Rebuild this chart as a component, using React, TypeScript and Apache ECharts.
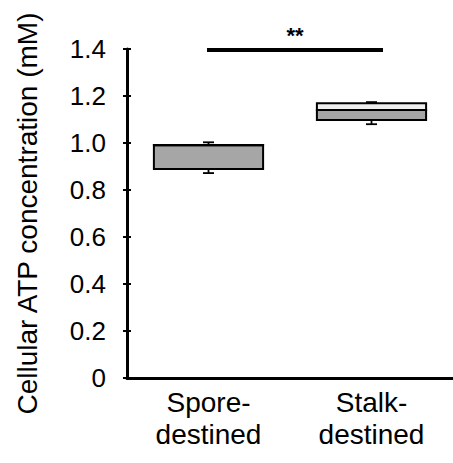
import React, { useEffect, useRef } from "react";
import * as echarts from "echarts";

const categories = ["Spore-\ndestined", "Stalk-\ndestined"];
// [min, Q1, median, Q3, max]
const boxStats = [
  [0.872, 0.889, 0.99, 0.991, 1.003],
  [1.08, 1.098, 1.14, 1.169, 1.174],
];
const yTicks = { min: 0, max: 1.4, interval: 0.2 };
const yAxisTitle = "Cellular ATP concentration (mM)";
const significance = "**";

const FONT = "'Liberation Sans', Arial, Helvetica, sans-serif";

export default function App() {
  const ref = useRef<HTMLDivElement>(null);
  useEffect(() => {
    if (!ref.current) return;
    const chart = echarts.init(ref.current, null, { renderer: "svg" });
    const data = boxStats.map((s, i) => [i, ...s]);
    const option: any = {
      animation: false,
      grid: { left: 127, right: -7, top: 49, bottom: 85 },
      xAxis: {
        type: "category",
        data: categories,
        boundaryGap: true,
        axisLine: { lineStyle: { color: "#000", width: 3 } },
        axisTick: { show: false },
        axisLabel: {
          color: "#000",
          fontSize: 28,
          fontFamily: FONT,
          lineHeight: 32,
          margin: 8,
          interval: 0,
        },
      },
      yAxis: [
        {
          type: "value",
          ...yTicks,
          name: yAxisTitle,
          nameLocation: "middle",
          nameRotate: 90,
          nameGap: 86,
          nameTextStyle: { color: "#000", fontSize: 28, fontFamily: FONT },
          splitLine: { show: false },
          axisLine: { show: true, lineStyle: { color: "#000", width: 3 } },
          axisTick: { show: true, length: 4, lineStyle: { color: "#000", width: 2 } },
          axisLabel: {
            color: "#000",
            fontSize: 26,
            fontFamily: FONT,
            margin: 21,
            formatter: (v: number) => (v === 0 ? "0" : v.toFixed(1)),
          },
        },
        {
          type: "value",
          ...yTicks,
          position: "left",
          splitLine: { show: false },
          axisLine: { show: false },
          axisTick: { show: true, inside: true, length: 4, lineStyle: { color: "#000", width: 2 } },
          axisLabel: { show: false },
        },
      ],
      series: [
        {
          type: "custom",
          data,
          encode: { x: 0, y: [1, 2, 3, 4, 5] },
          renderItem: (params: any, api: any) => {
            const idx = api.value(0);
            const mn = api.coord([idx, api.value(1)]);
            const q1 = api.coord([idx, api.value(2)]);
            const md = api.coord([idx, api.value(3)]);
            const q3 = api.coord([idx, api.value(4)]);
            const mx = api.coord([idx, api.value(5)]);
            const bw = api.size([1, 0])[0] * 0.67;
            const cx = mn[0];
            const left = cx - bw / 2;
            const cap = 5.5;
            const lineStyle = { stroke: "#000", lineWidth: 1.8 };
            return {
              type: "group",
              children: [
                { type: "line", shape: { x1: cx, y1: q3[1], x2: cx, y2: mx[1] }, style: lineStyle },
                { type: "line", shape: { x1: cx - cap, y1: mx[1], x2: cx + cap, y2: mx[1] }, style: lineStyle },
                { type: "line", shape: { x1: cx, y1: q1[1], x2: cx, y2: mn[1] }, style: lineStyle },
                { type: "line", shape: { x1: cx - cap, y1: mn[1], x2: cx + cap, y2: mn[1] }, style: lineStyle },
                {
                  type: "rect",
                  shape: { x: left, y: md[1], width: bw, height: q1[1] - md[1] },
                  style: { fill: "#a6a6a6", stroke: "#000", lineWidth: 2 },
                },
                {
                  type: "rect",
                  shape: { x: left, y: q3[1], width: bw, height: md[1] - q3[1] },
                  style: { fill: "#eeeeee", stroke: "#000", lineWidth: 2 },
                },
              ],
            };
          },
        },
      ],
      graphic: [
        {
          type: "line",
          shape: { x1: 207, y1: 50, x2: 383, y2: 50 },
          style: { stroke: "#000", lineWidth: 4 },
        },
        {
          type: "text",
          x: 295,
          y: 35,
          style: {
            text: significance,
            fill: "#000",
            fontSize: 22,
            fontWeight: "bold",
            fontFamily: FONT,
            align: "center",
            verticalAlign: "middle",
          },
        },
      ],
    };
    chart.setOption(option);
    return () => chart.dispose();
  }, []);
  return (
    <div
      ref={ref}
      style={{ position: "fixed", left: 0, top: 0, width: 453, height: 463, background: "#fff" }}
    />
  );
}
